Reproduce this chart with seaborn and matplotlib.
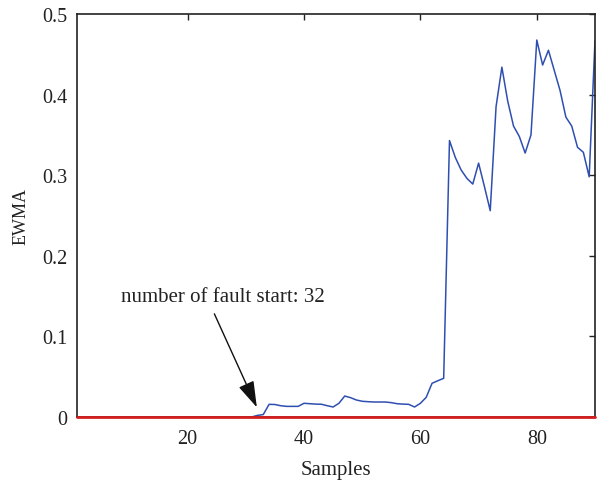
import numpy as np
import pandas as pd
import matplotlib
matplotlib.use("Agg")
import matplotlib.pyplot as plt
import seaborn as sns

samples = list(range(1, 91))
ewma_low = [0.0] * 31
ewma_mid = [0.002, 0.003, 0.0157, 0.0155, 0.014, 0.0132, 0.0132, 0.0132, 0.017, 0.0165,
            0.016, 0.0158, 0.014, 0.0124, 0.017, 0.026, 0.024, 0.0211, 0.0195, 0.019,
            0.0186, 0.0186, 0.0186, 0.0178, 0.0165, 0.016, 0.0157, 0.0124, 0.017, 0.0244,
            0.0418, 0.045, 0.048]
ewma_high = [0.343, 0.322, 0.3065, 0.296, 0.289, 0.315, 0.286, 0.256, 0.385, 0.434,
             0.392, 0.361, 0.348, 0.3275, 0.350, 0.4677, 0.4367, 0.455, 0.430, 0.405,
             0.372, 0.361, 0.3346, 0.3284, 0.298, 0.467]
ewma = ewma_low + ewma_mid + ewma_high
limit = [0.0] * 90

x_ticks = [20, 40, 60, 80]
y_ticks = [0, 0.1, 0.2, 0.3, 0.4, 0.5]
y_tick_labels = ["0", "0.1", "0.2", "0.3", "0.4", "0.5"]

df = pd.DataFrame({"Samples": samples, "EWMA": ewma, "Limit": limit})

sns.set_style("white")
plt.rcParams['font.family'] = ['Liberation Serif', 'DejaVu Serif']

fig = plt.figure(figsize=(5.98, 4.85), dpi=100)
ax = fig.add_axes([77/598, 1 - 418/485, (595 - 77)/598, (418 - 15)/485])

sns.lineplot(data=df, x="Samples", y="EWMA", ax=ax, color="#2f4fb0", linewidth=1.1)
sns.lineplot(data=df, x="Samples", y="Limit", ax=ax, color="#d42020", linewidth=2.0)
ax.lines[-1].set_zorder(5)
ax.lines[-1].set_clip_on(False)

ax.set_xlim(1, 90)
ax.set_ylim(0, 0.5)
ax.set_xticks(x_ticks)
ax.set_xticklabels([str(t) for t in x_ticks])
ax.set_yticks(y_ticks)
ax.set_yticklabels(y_tick_labels)
ax.tick_params(direction="in", length=4, width=1, top=True, right=True,
               labelsize=14.5, colors="#222222")
ax.tick_params(axis="y", pad=7)
ax.tick_params(axis="x", pad=9)
for s in ax.spines.values():
    s.set_visible(True)
    s.set_linewidth(1.2)
    s.set_color("#222222")

ax.set_xlabel("Samples", fontsize=15, color="#222222", labelpad=8)
ax.set_ylabel("EWMA", fontsize=13, color="#222222", labelpad=9)

ax.text(8.6, 0.150, "number of fault start: 32", fontsize=15, color="#222222",
        va="center", ha="left")
ax.annotate("", xy=(31.9, 0.012), xytext=(24.6, 0.128),
            arrowprops=dict(arrowstyle="-|>,head_length=0.9,head_width=0.28",
                            color="#111111", lw=1.0,
                            mutation_scale=18, shrinkA=0, shrinkB=0),
            annotation_clip=False)

fig.savefig("out.png", dpi=100)
